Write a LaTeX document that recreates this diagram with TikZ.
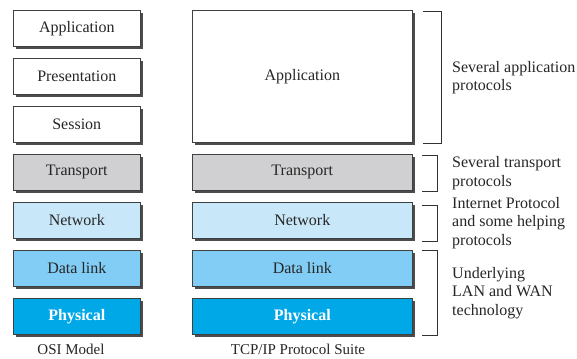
\documentclass[tikz,border=0pt]{standalone}
\usepackage{fontspec}
\setmainfont{Liberation Serif}
\usetikzlibrary{shadows}
\begin{document}
\begin{tikzpicture}[x=1pt,y=-1pt,
  layer/.style={draw=black!75,line width=0.6pt,minimum width=127pt,minimum height=36pt,anchor=north west,
     inner sep=0pt,font=\fontsize{16}{18}\selectfont,text=black!85,
     general shadow={fill=black!70,shadow xshift=3pt,shadow yshift=-3pt}},
  wide/.style={layer,minimum width=220pt},
  wbox/.style={fill=white},
  trans/.style={fill=transC},
  net/.style={fill=netC},
  dl/.style={fill=dlC},
  phys/.style={fill=physC,text=white,font=\fontsize{16}{18}\selectfont\bfseries},
  brk/.style={draw=black!80,line width=0.7pt},
  note/.style={anchor=base west,align=left,inner sep=0pt,font=\fontsize{16}{18.5}\selectfont,text=black!85},
  captxt/.style={anchor=base,font=\fontsize{15}{17}\selectfont,text=black!85,inner sep=0pt}
]
\definecolor{transC}{RGB}{208,208,210}
\definecolor{netC}{RGB}{200,232,250}
\definecolor{dlC}{RGB}{130,205,245}
\definecolor{physC}{RGB}{0,168,232}
\useasboundingbox (0,0) rectangle (577,358);
\fill[white] (0,0) rectangle (577,358);
% OSI
\node[layer,wbox] (oapp) at (13,10) {Application};
\node[layer,wbox] (opres) at (13,58) {Presentation};
\node[layer,wbox] (osess) at (13,106) {Session};
\node[layer,trans] (otr) at (13,154) {Transport};
\node[layer,net] (onet) at (13,202) {Network};
\node[layer,dl] (odl) at (13,250) {Data link};
\node[layer,phys] (ophy) at (13,298) {Physical};
\node[captxt] (osil) at (71,354) {OSI Model};
% TCP/IP
\node[wide,wbox,minimum height=132pt] (tapp) at (192,10) {Application};
\node[wide,trans] (ttr) at (192,154) {Transport};
\node[wide,net] (tnet) at (192,202) {Network};
\node[wide,dl] (tdl) at (192,250) {Data link};
\node[wide,phys] (tphy) at (192,298) {Physical};
\node[captxt] (tcpl) at (298,354) {TCP/IP Protocol Suite};
% brackets
\coordinate (b1a) at (423,11); \coordinate (b1b) at (441,11);
\coordinate (b1c) at (441,143); \coordinate (b1d) at (423,143);
\draw[brk] (b1a) -- (b1b) -- (b1c) -- (b1d);
\coordinate (b2a) at (422,155); \coordinate (b2b) at (437,155);
\coordinate (b2c) at (437,191); \coordinate (b2d) at (422,191);
\draw[brk] (b2a) -- (b2b) -- (b2c) -- (b2d);
\coordinate (b3a) at (422,205); \coordinate (b3b) at (437,205);
\coordinate (b3c) at (437,241); \coordinate (b3d) at (422,241);
\draw[brk] (b3a) -- (b3b) -- (b3c) -- (b3d);
\coordinate (b4a) at (422,250); \coordinate (b4b) at (437,250);
\coordinate (b4c) at (437,335); \coordinate (b4d) at (422,335);
\draw[brk] (b4a) -- (b4b) -- (b4c) -- (b4d);
% notes (anchored at the baseline of the last line)
\node[note] (n1) at (452,91) {Several application\\protocols};
\node[note] (n2) at (452,186) {Several transport\\protocols};
\node[note] (n3) at (452,245) {Internet Protocol\\and some helping\\protocols};
\node[note] (n4) at (452,315) {Underlying\\LAN and WAN\\technology};
\end{tikzpicture}
\end{document}
